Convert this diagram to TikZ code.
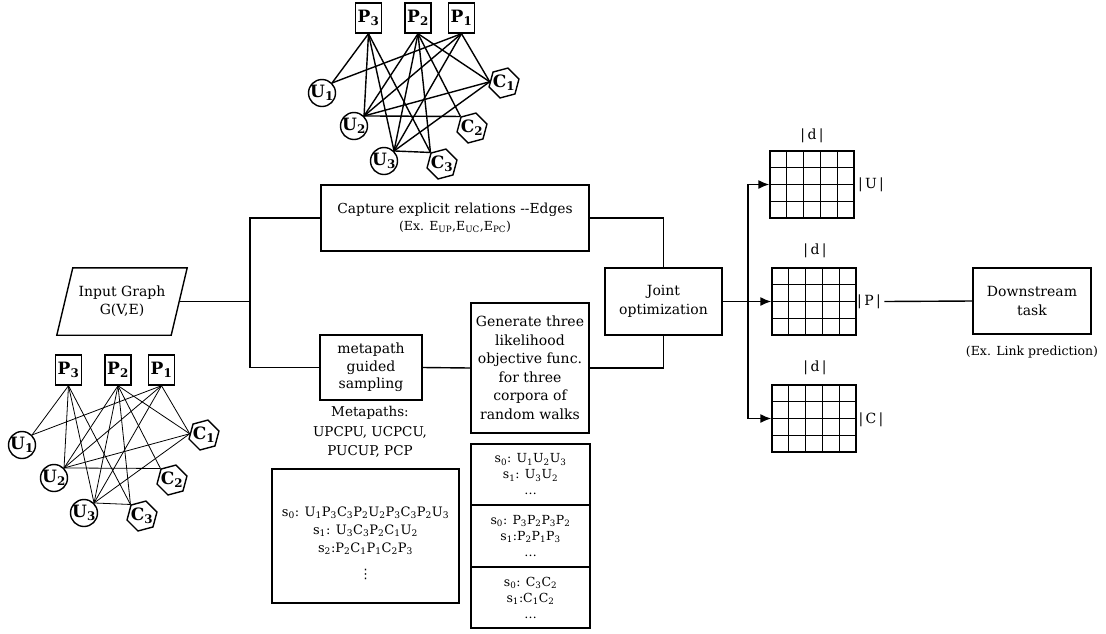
\documentclass[tikz,border=0pt]{standalone}
\usepackage{fontspec}
\setmainfont{DejaVu Serif}
\newfontfamily\symfont{DejaVu Sans}
\usetikzlibrary{arrows.meta,shapes.geometric,calc}
\newcommand\sub[1]{\textsubscript{#1}}
\tikzset{
  txt/.style={align=center, font=\fontsize{14}{18.5}\selectfont},
  box/.style={draw, line width=1.4pt, align=center, inner sep=2pt, font=\fontsize{14}{18.5}\selectfont},
  pbox/.style={draw, line width=1.4pt, minimum width=26pt, minimum height=30pt, inner sep=1pt, font=\fontsize{17}{19}\selectfont\bfseries},
  ucirc/.style={draw, circle, line width=1.4pt, minimum size=27pt, inner sep=-1pt, font=\fontsize{17}{19}\selectfont\bfseries},
  chex/.style={draw, regular polygon, regular polygon sides=6, shape border rotate=15, line width=1.4pt, minimum size=31pt, inner sep=-2pt, font=\fontsize{17}{19}\selectfont\bfseries},
  link/.style={line width=1.4pt},
  arr/.style={line width=1.4pt, -{Latex[length=11pt,width=9pt]}},
  gridbox/.style={draw, line width=1.4pt, minimum width=84pt, minimum height=67pt, inner sep=0pt},
}
\newcommand\hetgraph[3]{%
  \begin{scope}[shift={(#2)}]
    \node[pbox] (#1P3) at (368.5,18) {P\sub{3}};
    \node[pbox] (#1P2) at (418,18) {P\sub{2}};
    \node[pbox] (#1P1) at (461.5,18) {P\sub{1}};
    \node[ucirc] (#1U1) at (322,93) {U\sub{1}};
    \node[ucirc] (#1U2) at (354,126) {U\sub{2}};
    \node[ucirc] (#1U3) at (384,161) {U\sub{3}};
    \node[chex] (#1C1) at (504,83) {C\sub{1}};
    \node[chex] (#1C2) at (472,128) {C\sub{2}};
    \node[chex] (#1C3) at (442,164) {C\sub{3}};
  \end{scope}
  \foreach \a/\b in {P3.south/U1.45, P3.south/U2.45, P3.south/U3.45, P3.south/C3.135,
                     P2.south/U2.45, P2.south/U3.45, P2.south/C3.135, P2.south/C2.135, P2.south/C1.175,
                     P1.south/U1.45, P1.south/U2.45, P1.south/U3.45, P1.south/C1.175,
                     U2.45/C1.175, U2.45/C2.135, U3.45/C1.175, U3.45/C3.135}
    \draw[line width=#3] (#1\a) -- (#1\b);
}
\begin{document}
\begin{tikzpicture}[x=1pt,y=-1pt]
\useasboundingbox (0,0) rectangle (1106,633);

% graphs
\hetgraph{t}{0,0}{1.4pt}
\hetgraph{b}{-300,352}{0.8pt}

% input graph
\node[txt, minimum width=114pt, minimum height=67pt] (inp) at (122,301.5) {Input Graph\\G(V,E)};
\draw[link] ($(inp.north west)+(8,0)$) -- ($(inp.north east)+(8,0)$) -- ($(inp.south east)+(-8,0)$) -- ($(inp.south west)+(-8,0)$) -- cycle;

% main boxes
\node[box, minimum width=268pt, minimum height=66pt, font=\fontsize{13.8}{18.5}\selectfont] (cap) at (455,218)
  {Capture explicit relations -{}-Edges\\[-2pt]{\fontsize{12.5}{14}\selectfont (Ex. E\sub{UP},E\sub{UC},E\sub{PC})}};
\node[box, minimum width=102pt, minimum height=65pt, font=\fontsize{14}{17.5}\selectfont] (meta) at (371,367.5) {metapath\\guided\\sampling};
\node[box, minimum width=118pt, minimum height=130pt] (gen) at (530,368)
  {Generate three\\likelihood\\objective func.\\for three\\corpora of\\random walks};
\node[box, minimum width=117pt, minimum height=67pt] (joint) at (663.5,301.5) {Joint\\optimization};
\node[box, minimum width=118pt, minimum height=66pt] (down) at (1032,301) {Downstream\\task};
\node[txt, font=\fontsize{12.5}{15}\selectfont] (ex) at (1032,352) {(Ex. Link prediction)};

% metapaths
\node[txt, font=\fontsize{13.5}{19.5}\selectfont] (mptxt) at (370,432) {Metapaths:\\UPCPU, UCPCU,\\PUCUP, PCP};
\node[box, minimum width=187pt, minimum height=134pt] (seq) at (365.5,536) {};
\node[txt, font=\fontsize{13}{18}\selectfont] (seqtxt) at (365.5,543)
  {s\sub{0}: U\sub{1}P\sub{3}C\sub{3}P\sub{2}U\sub{2}P\sub{3}C\sub{3}P\sub{2}U\sub{3}\\
   s\sub{1}: U\sub{3}C\sub{3}P\sub{2}C\sub{1}U\sub{2}\\
   s\sub{2}:P\sub{2}C\sub{1}P\sub{1}C\sub{2}P\sub{3}\\[8pt]
   {\symfont ⋮}};

% corpora
\node[box, minimum width=119pt, minimum height=61pt, font=\fontsize{12.5}{16}\selectfont] (su) at (530.5,474.5)
  {s\sub{0}: U\sub{1}U\sub{2}U\sub{3}\\s\sub{1}: U\sub{3}U\sub{2}\\\ldots};
\node[box, minimum width=119pt, minimum height=62pt, font=\fontsize{12.5}{16}\selectfont] (sp) at (530.5,536)
  {s\sub{0}: P\sub{3}P\sub{2}P\sub{3}P\sub{2}\\s\sub{1}:P\sub{2}P\sub{1}P\sub{3}\\\ldots};
\node[box, minimum width=119pt, minimum height=61pt, font=\fontsize{12.5}{16}\selectfont] (sc) at (530.5,597.5)
  {s\sub{0}: C\sub{3}C\sub{2}\\s\sub{1}:C\sub{1}C\sub{2}\\\ldots};

% grids
\node[gridbox] (gU) at (812,184.5) {};
\node[gridbox] (gP) at (814,301.5) {};
\node[gridbox] (gC) at (814,418.5) {};
\foreach \g in {gU,gP,gC}{
  \foreach \i in {1,...,4}
    \draw[link] ($(\g.north west)!\i/5!(\g.north east)$) -- ($(\g.south west)!\i/5!(\g.south east)$);
  \foreach \j in {1,2,3}
    \draw[link] ($(\g.north west)!\j/4!(\g.south west)$) -- ($(\g.north east)!\j/4!(\g.south east)$);
}
\node[txt] (dU) at (812,136) {|\,d\,|};
\node[txt] (dP) at (815,251) {|\,d\,|};
\node[txt] (dC) at (815,368) {|\,d\,|};
\node[txt] (lU) at (871,185) {|\,U\,|};
\node[txt] (lP) at (869,301.5) {|\,P\,|};
\node[txt] (lC) at (871,420) {|\,C\,|};

% connectors
\coordinate (j1) at (250,301.5);
\draw[link] (inp.east) -- (j1);
\draw[link] (cap.west) -| (j1) |- (meta.west);
\draw[link] (cap.east) -| (joint.north);
\draw[link] (meta.east) -- (gen.west);
\draw[link] (gen.east) -| (joint.south);
\coordinate (j2) at (748,301.5);
\draw[link] (joint.east) -- (j2);
\draw[arr] (j2) |- (gU.west);
\draw[arr] (j2) -- (gP.west);
\draw[arr] (j2) |- (gC.west);
\draw[link] (lP.east) -- (down.west);
\end{tikzpicture}
\end{document}
